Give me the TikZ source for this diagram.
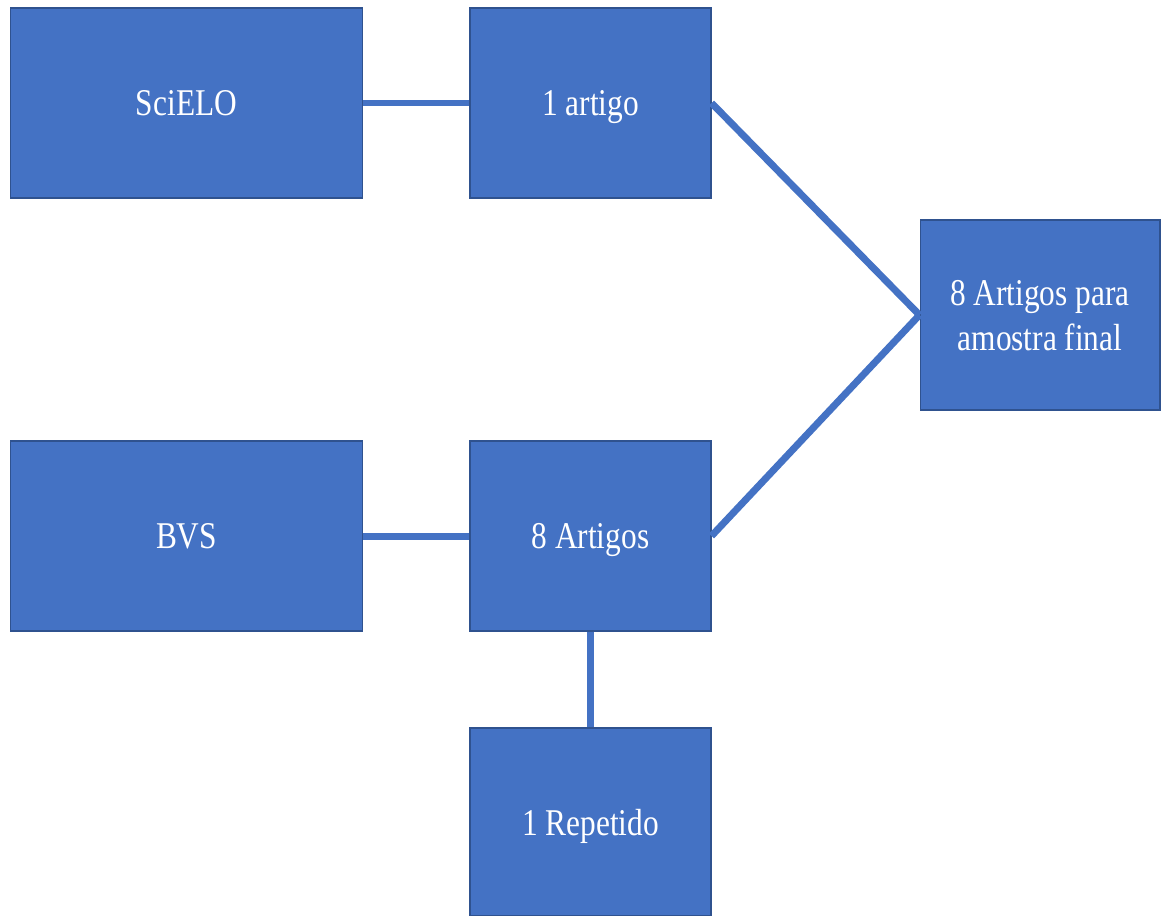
\documentclass[tikz,border=0pt]{standalone}
\usepackage{fontspec}
\setmainfont{Liberation Serif}[FakeStretch=0.83]
\usepackage{tikz}
\definecolor{boxblue}{HTML}{4472C4}
\definecolor{boxedge}{HTML}{2F528F}
\tikzset{node distance=2.0cm, auto}
\tikzset{
  caixa/.style={draw=boxedge, line width=0.6pt, fill=boxblue, text=white,
    minimum height=3.8cm, inner sep=0pt, align=center, text depth=0pt,
    font=\fontsize{21.5}{25.6}\selectfont},
  liga/.style={draw=boxblue, line width=0.14cm}
}

\begin{document}
\begin{tikzpicture}[x=0.02cm, y=-0.02cm]
\useasboundingbox (0,0) rectangle (1161,916);
% fontes
\node[caixa, minimum width=7.06cm] (scielo) at (186.5,103) {SciELO};
\node[caixa, minimum width=7.06cm] (bvs) at (186.5,536) {BVS};
% resultados
\node[caixa, minimum width=4.82cm] (artigo) at (590.5,103) {1 artigo};
\node[caixa, minimum width=4.82cm] (artigos) at (590.5,536) {8 Artigos};
\node[caixa, minimum width=4.82cm, minimum height=3.76cm] (repetido) at (590.5,822) {1 Repetido};
\node[caixa, minimum width=4.8cm] (final) at (1040,315) {8 Artigos para\\amostra final};
% ligacoes
\draw[liga] (scielo) -- (artigo);
\draw[liga] (bvs) -- (artigos);
\draw[liga] (artigos) -- (repetido);
\draw[liga] (artigo.east) -- (final.west);
\draw[liga] (artigos.east) -- (final.west);
\end{tikzpicture}
\end{document}
